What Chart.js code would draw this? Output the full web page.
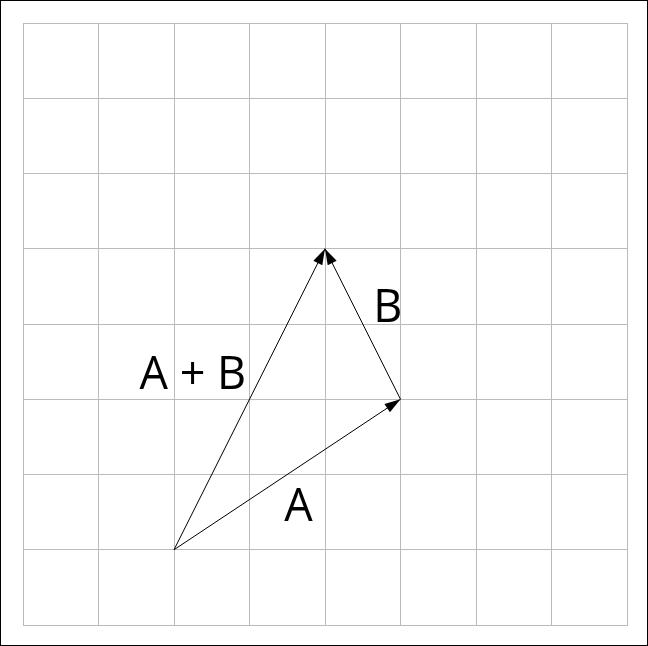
<!DOCTYPE html>
<html>
<head>
<script src="https://cdn.jsdelivr.net/npm/chart.js@4.4.0/dist/chart.umd.min.js"></script>
<style>
  html, body { margin: 0; padding: 0; background: #fff; }
  #wrap { width: 648px; height: 646px; }
</style>
</head>
<body>
<div id="wrap"><canvas id="vec"></canvas></div>
<script>
    // vectors in grid units (origin bottom-left)
    const vecA = [{x: 2, y: 1}, {x: 5, y: 3}];
    const vecB = [{x: 5, y: 3}, {x: 4, y: 5}];
    const vecSum = [{x: 2, y: 1}, {x: 4, y: 5}];
    const labelText = ['A', 'B', 'A + B'];
    const labelPos = [{x: 3.65, y: 1.55}, {x: 4.83, y: 4.2}, {x: 2.25, y: 3.3}];

    const arrowPlugin = {
        id: 'arrows',
        afterDatasetsDraw(chart) {
            const c = chart.ctx;
            const xs = chart.scales.x, ys = chart.scales.y;
            chart.data.datasets.forEach(function (ds) {
                const p0 = ds.data[0], p1 = ds.data[1];
                const x0 = xs.getPixelForValue(p0.x), y0 = ys.getPixelForValue(p0.y);
                const x1 = xs.getPixelForValue(p1.x), y1 = ys.getPixelForValue(p1.y);
                const a = Math.atan2(y1 - y0, x1 - x0);
                const len = 16, w = 5;
                c.save();
                c.fillStyle = '#000';
                c.beginPath();
                c.moveTo(x1, y1);
                c.lineTo(x1 - len * Math.cos(a) + w * Math.sin(a), y1 - len * Math.sin(a) - w * Math.cos(a));
                c.lineTo(x1 - len * Math.cos(a) - w * Math.sin(a), y1 - len * Math.sin(a) + w * Math.cos(a));
                c.closePath();
                c.fill();
                c.restore();
            });
            c.save();
            c.fillStyle = '#000';
            c.font = '45px "Open Sans", sans-serif';
            c.textAlign = 'center';
            c.textBaseline = 'middle';
            labelText.forEach(function (t, i) {
                c.fillText(t, xs.getPixelForValue(labelPos[i].x), ys.getPixelForValue(labelPos[i].y));
            });
            c.strokeStyle = '#000';
            c.lineWidth = 1;
            c.strokeRect(0.5, 0.5, chart.width - 1, chart.height - 1);
            c.restore();
        }
    };

    function seg(data) {
        return {data: data, showLine: true, borderColor: '#000', borderWidth: 1, pointRadius: 0};
    }

    new Chart(document.getElementById('vec'), {
        type: 'scatter',
        data: {datasets: [seg(vecA), seg(vecB), seg(vecSum)]},
        options: {
            responsive: true,
            maintainAspectRatio: false,
            animation: false,
            layout: {padding: {left: 23, top: 23, right: 21, bottom: 21}},
            plugins: {legend: {display: false}, tooltip: {enabled: false}},
            scales: {
                x: {
                    min: 0, max: 8,
                    ticks: {display: false, stepSize: 1},
                    grid: {color: '#bbbbbb', drawTicks: false},
                    border: {color: '#bbbbbb'}
                },
                y: {
                    min: 0, max: 8,
                    ticks: {display: false, stepSize: 1},
                    grid: {color: '#bbbbbb', drawTicks: false},
                    border: {color: '#bbbbbb'}
                }
            }
        },
        plugins: [arrowPlugin]
    });
</script>
</body>
</html>
